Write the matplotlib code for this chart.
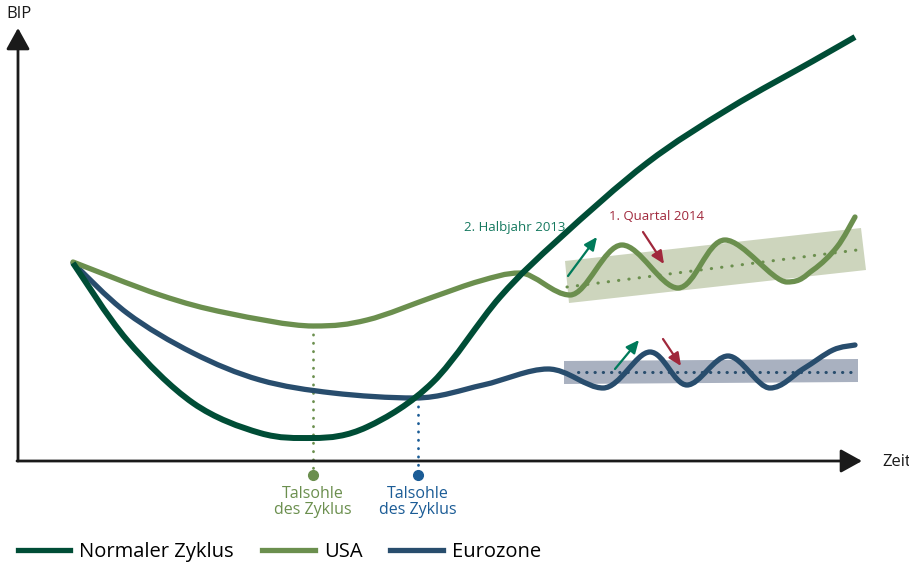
import matplotlib
matplotlib.use('Agg')
import matplotlib.pyplot as plt
from matplotlib.lines import Line2D
from matplotlib.path import Path
from matplotlib.patches import PathPatch

plt.rcParams['font.family'] = ['Open Sans', 'DejaVu Sans']

# Schematic BIP curves (time units along x, BIP units along y)
normal_x = [55, 109, 175, 242, 295, 349, 415, 482, 542, 629, 712, 795, 837]
normal_y = [198, 121, 58, 28, 23, 34, 79, 164, 223, 298, 353, 400, 424]

usa_x = [55, 142, 209, 295, 349, 415, 462, 502, 552, 604, 660, 707, 769, 795, 819, 837]
usa_y = [199, 166, 148, 135, 141, 164, 180, 188, 166, 216, 173, 221, 179, 191, 214, 244]

euro_x = [55, 109, 175, 242, 315, 397, 465, 530, 585, 632, 669, 710, 752, 785, 815, 837]
euro_y = [198, 148, 108, 81, 68, 63, 76, 92, 73, 109, 76, 105, 73, 92, 111, 116]

# corridors and trend lines
usa_band_x = [547, 843, 848, 551]
usa_band_y = [200, 233, 191, 158]
euro_band_x = [546, 840, 840, 546]
euro_band_y = [100, 102, 79, 77]
usa_trend_x = [549, 847]
usa_trend_y = [174, 212]
euro_trend_x = [560, 840]
euro_trend_y = [89, 89]

# cycle troughs
trough_x = [295, 400]
trough_y = [135, 63]

c_normal = '#004d36'
c_usa = '#6b8f4e'
c_euro = '#284d6d'
c_up = '#007a5a'
c_down = '#a0283c'


def smooth_path(xs, ys):
    # bezier path through the read points, flat tangents at peaks and troughs
    n = len(xs)
    tx, ty = [], []
    for i in range(n):
        a = max(i - 1, 0)
        b = min(i + 1, n - 1)
        dx = (xs[b] - xs[a]) / 2
        dy = (ys[b] - ys[a]) / 2
        if 0 < i < n - 1 and (ys[i] - ys[a]) * (ys[b] - ys[i]) < 0:
            dy = 0
        tx.append(dx)
        ty.append(dy)
    verts = [(xs[0], ys[0])]
    codes = [Path.MOVETO]
    for i in range(n - 1):
        verts += [(xs[i] + tx[i] / 3, ys[i] + ty[i] / 3),
                  (xs[i + 1] - tx[i + 1] / 3, ys[i + 1] - ty[i + 1] / 3),
                  (xs[i + 1], ys[i + 1])]
        codes += [Path.CURVE4] * 3
    return Path(verts, codes)


fig = plt.figure(figsize=(9.09, 5.63), dpi=100)
ax = fig.add_axes([0, 0, 1, 1])
ax.set_xlim(-18, 891)
ax.set_ylim(-102, 461)
ax.axis('off')

# bands
ax.fill(usa_band_x, usa_band_y, color='#cdd5bd', lw=0, zorder=1)
ax.fill(euro_band_x, euro_band_y, color='#a9b1c0', lw=0, zorder=1)
ax.plot(usa_trend_x, usa_trend_y, color=c_usa, lw=2.2, ls=(0, (0.1, 3.3)),
        dash_capstyle='round', zorder=2)
ax.plot(euro_trend_x, euro_trend_y, color=c_euro, lw=2.2, ls=(0, (0.1, 2.6)),
        dash_capstyle='round', zorder=2)

# trough markers
trough_cols = [c_usa, '#1b5c96']
for tx, ty, col in zip(trough_x, trough_y, trough_cols):
    ax.plot([tx, tx], [ty, -14], color=col, lw=2, ls=(0, (0.1, 2.9)),
            dash_capstyle='round', zorder=2)
    ax.plot(tx, -14, 'o', color=col, ms=7, zorder=3)
    ax.text(tx, -41, 'Talsohle\ndes Zyklus', color=col, fontsize=11.5,
            ha='center', va='center', linespacing=1.05)

# curves
ax.add_patch(PathPatch(smooth_path(euro_x, euro_y), fill=False, ec=c_euro, lw=3.8,
                       capstyle='round', joinstyle='round', zorder=4))
ax.add_patch(PathPatch(smooth_path(usa_x, usa_y), fill=False, ec=c_usa, lw=3.8,
                       capstyle='round', joinstyle='round', zorder=5))
ax.add_patch(PathPatch(smooth_path(normal_x, normal_y), fill=False, ec=c_normal, lw=4.3,
                       capstyle='butt', joinstyle='round', zorder=6))

# arrows
arrows = [((550, 185), (579, 224), c_up), ((625, 229), (646, 197), c_down),
          ((597, 92), (621, 121), c_up), ((645, 122), (663, 95), c_down)]
for start, end, col in arrows:
    ax.annotate('', xy=end, xytext=start,
                arrowprops=dict(arrowstyle='-|>,head_length=0.55,head_width=0.25',
                                mutation_scale=14, lw=1.6, color=col,
                                shrinkA=0, shrinkB=0), zorder=7)

ax.text(547, 233, '2. Halbjahr 2013', color='#15795f', fontsize=9.5,
        ha='right', va='center')
ax.text(591, 244, '1. Quartal 2014', color=c_down, fontsize=9.5,
        ha='left', va='center')

# axes with arrows
ax_col = '#1a1a1a'
head = '-|>,head_length=0.65,head_width=0.36'
ax.annotate('', xy=(0, 433), xytext=(0, 0),
            arrowprops=dict(arrowstyle=head, mutation_scale=20, lw=2, color=ax_col,
                            shrinkA=0, shrinkB=0))
ax.annotate('', xy=(844, 0), xytext=(-1, 0),
            arrowprops=dict(arrowstyle=head, mutation_scale=20, lw=2, color=ax_col,
                            shrinkA=0, shrinkB=0))
ax.text(1, 447, 'BIP', fontsize=12, ha='center', va='center', color=ax_col)
ax.text(864, -1, 'Zeit', fontsize=12, ha='left', va='center', color=ax_col)

# legend
handles = [Line2D([], [], color=c, lw=3.8) for c in (c_normal, c_usa, c_euro)]
labels = ['Normaler Zyklus', 'USA', 'Eurozone']
ax.legend(handles, labels, loc='center left', bbox_to_anchor=(18 / 909, 1 - 552 / 563),
          ncol=3, frameon=False, fontsize=14.5, handlelength=2.6, handletextpad=0.45,
          columnspacing=1.4, borderpad=0, borderaxespad=0)

fig.savefig('out.png', dpi=100)
